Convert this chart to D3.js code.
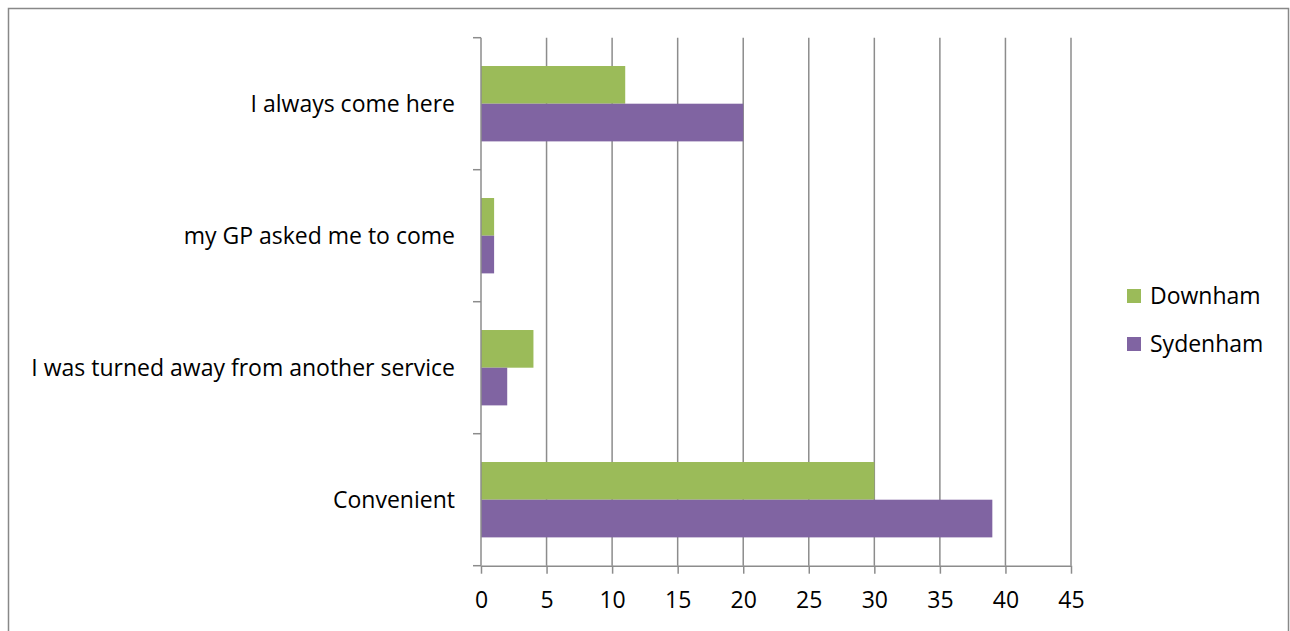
<!DOCTYPE html>
<html>
<head>
<meta charset="utf-8">
<script src="https://cdn.jsdelivr.net/npm/d3@7"></script>
<style>
  body { margin: 0; background: #fff; }
  text { font-family: "Open Sans", "Noto Sans", sans-serif; fill: #000; }
</style>
</head>
<body>
<div id="my_dataviz"></div>
<script>
// data
var categories = ["I always come here", "my GP asked me to come", "I was turned away from another service", "Convenient"];
var seriesNames = ["Downham", "Sydenham"];
var downham = [11, 1, 4, 30];
var sydenham = [20, 1, 2, 39];
var xTicks = [0, 5, 10, 15, 20, 25, 30, 35, 40, 45];
var colors = ["#9bbb59", "#8064a2"];

var W = 1290, H = 631;
var margin = {top: 37.7, left: 481, right: 1071, bottom: 565.7};
var fontSize = "23px";

var svg = d3.select("#my_dataviz")
    .append("svg")
    .attr("width", W)
    .attr("height", H);

// chart frame
svg.append("rect")
    .attr("x", 8.5).attr("y", 8.5)
    .attr("width", 1280).attr("height", 640)
    .attr("fill", "none")
    .attr("stroke", "#888")
    .attr("stroke-width", 1.5);

var x = d3.scaleLinear().domain([0, 45]).range([margin.left, margin.right]);
var y = d3.scaleBand().domain(categories).range([margin.top, margin.bottom])
    .paddingInner(0.429).paddingOuter(0.2145);
var sub = d3.scaleBand().domain(seriesNames).range([0, y.bandwidth()]);

// vertical gridlines
svg.append("g").selectAll("line")
    .data(xTicks.slice(1))
    .enter().append("line")
    .attr("x1", function(d) { return x(d); })
    .attr("x2", function(d) { return x(d); })
    .attr("y1", margin.top).attr("y2", margin.bottom)
    .attr("stroke", "#8c8c8c").attr("stroke-width", 1.5);

// bars
var rows = categories.map(function(c, i) { return {cat: c, vals: [downham[i], sydenham[i]]}; });
svg.append("g").selectAll("g")
    .data(rows)
    .enter().append("g")
    .attr("transform", function(d) { return "translate(0," + y(d.cat) + ")"; })
    .selectAll("rect")
    .data(function(d) { return d.vals.map(function(v, j) { return {name: seriesNames[j], v: v, j: j}; }); })
    .enter().append("rect")
    .attr("x", x(0))
    .attr("y", function(d) { return sub(d.name); })
    .attr("width", function(d) { return x(d.v) - x(0); })
    .attr("height", sub.bandwidth())
    .attr("fill", function(d) { return colors[d.j]; });

// x axis
var xAxis = svg.append("g")
    .attr("transform", "translate(0," + margin.bottom + ")")
    .call(d3.axisBottom(x).tickValues(xTicks).tickSize(8).tickSizeOuter(0).tickPadding(18));
xAxis.select(".domain").attr("stroke", "#8c8c8c").attr("stroke-width", 1.5);
xAxis.selectAll(".tick line").attr("stroke", "#8c8c8c").attr("stroke-width", 1.5);
xAxis.selectAll("text").attr("font-size", fontSize).attr("font-family", "Open Sans");

// y axis: ticks at band boundaries
var yAxis = svg.append("g").attr("transform", "translate(" + margin.left + ",0)");
yAxis.append("line")
    .attr("x1", 0).attr("x2", 0)
    .attr("y1", margin.top).attr("y2", margin.bottom)
    .attr("stroke", "#8c8c8c").attr("stroke-width", 1.5);
var bounds = d3.range(categories.length + 1).map(function(i) { return margin.top + i * y.step(); });
yAxis.selectAll(".yt")
    .data(bounds)
    .enter().append("line")
    .attr("x1", -8).attr("x2", 0)
    .attr("y1", function(d) { return d; }).attr("y2", function(d) { return d; })
    .attr("stroke", "#8c8c8c").attr("stroke-width", 1.5);
yAxis.selectAll(".yl")
    .data(categories)
    .enter().append("text")
    .attr("x", -26)
    .attr("y", function(d) { return y(d) + y.bandwidth() / 2; })
    .attr("dy", "0.35em")
    .attr("text-anchor", "end")
    .attr("font-size", fontSize)
    .text(function(d) { return d; });

// legend
var legend = svg.append("g").selectAll("g")
    .data(seriesNames)
    .enter().append("g")
    .attr("transform", function(d, i) { return "translate(1127," + (289 + i * 48) + ")"; });
legend.append("rect")
    .attr("width", 14).attr("height", 14)
    .attr("fill", function(d, i) { return colors[i]; });
legend.append("text")
    .attr("x", 23).attr("y", 7)
    .attr("dy", "0.35em")
    .attr("font-size", fontSize)
    .text(function(d) { return d; });
</script>
</body>
</html>
